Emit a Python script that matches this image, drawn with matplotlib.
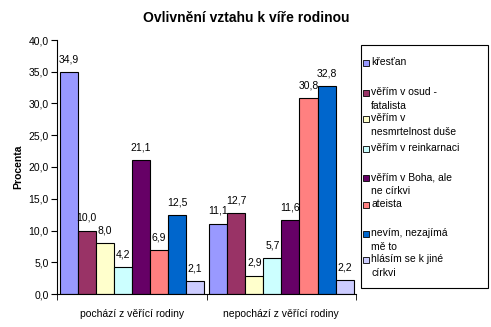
import numpy as np
import matplotlib
matplotlib.use("Agg")
import matplotlib.pyplot as plt
from matplotlib.patches import Rectangle

plt.rcParams['font.family'] = ['Liberation Sans', 'DejaVu Sans']

categories = ['pochází z věřící rodiny', 'nepochází z věřící rodiny']
series = ['křesťan', 'věřím v osud -\nfatalista', 'věřím v\nnesmrtelnost duše',
          'věřím v reinkarnaci', 'věřím v Boha, ale\nne církvi', 'ateista',
          'nevím, nezajímá\nmě to', 'hlásím se k jiné\ncírkvi']
values = [
    [34.9, 11.1],
    [10.0, 12.7],
    [8.0, 2.9],
    [4.2, 5.7],
    [21.1, 11.6],
    [6.9, 30.8],
    [12.5, 32.8],
    [2.1, 2.2],
]
colors = ['#9999FF', '#993366', '#FFFFCC', '#CCFFFF', '#660066', '#FF8080', '#0066CC', '#CCCCFF']

W, H = 491, 327
fig = plt.figure(figsize=(W / 100, H / 100), dpi=100)
ax = fig.add_axes([57 / W, 1 - 294 / H, (356 - 57) / W, (294 - 40) / H])

width = 0.121
x = np.arange(len(categories))
start = -0.483
for i, (name, vals) in enumerate(zip(series, values)):
    pos = x + start + i * width + width / 2
    ax.bar(pos, vals, width=width, color=colors[i], edgecolor='black', linewidth=0.8)
    for p, v in zip(pos, vals):
        ax.text(p, v + 1.2, f'{v:.1f}'.replace('.', ','), ha='center', va='bottom', fontsize=7.5)

ax.set_xlim(-0.5, 1.5)
ax.set_ylim(0, 40)
ax.set_yticks(np.arange(0, 41, 5))
ax.set_yticklabels([f'{t:.1f}'.replace('.', ',') for t in np.arange(0, 41, 5)], fontsize=7.5)
ax.set_xticks(x)
ax.set_xticklabels(categories, fontsize=7.5)
ax.tick_params(axis='x', which='major', length=0, pad=11)
ax.set_xticks([-0.5, 0.5, 1.5], minor=True)
ax.tick_params(axis='x', which='minor', length=4, direction='out')
ax.tick_params(axis='y', length=4, direction='out', pad=2)
for s in ['top', 'right']:
    ax.spines[s].set_visible(False)
ax.set_ylabel('Procenta', fontsize=7.5, fontweight='bold', labelpad=4)

fig.text(246 / W, 1 - 18 / H, 'Ovlivnění vztahu k víře rodinou', ha='center', va='center',
         fontsize=10, fontweight='bold')

# legend drawn by hand, Excel style
fig.patches.append(Rectangle((361 / W, 1 - 288 / H), (488 - 361) / W, (288 - 45) / H,
                             transform=fig.transFigure, fill=False, edgecolor='black', linewidth=0.8))
ys = [63, 93, 119, 149, 178, 205, 234, 260]
for name, c, y in zip(series, colors, ys):
    fig.patches.append(Rectangle((363 / W, 1 - (y + 3) / H), 6 / W, 6 / H, transform=fig.transFigure,
                                 facecolor=c, edgecolor='black', linewidth=0.6))
    fig.text(371 / W, 1 - (y - 6) / H, name, ha='left', va='top', fontsize=7.5, linespacing=1.5)

fig.savefig('out.png', dpi=100)
